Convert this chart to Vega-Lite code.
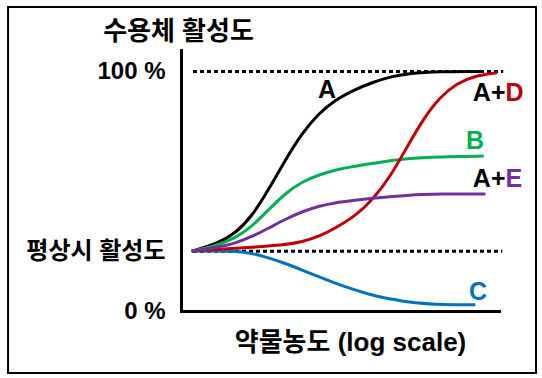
{
  "$schema": "https://vega.github.io/schema/vega-lite/v6.json",
  "width": 318,
  "height": 261,
  "autosize": {"type": "none"},
  "padding": {"left": 181, "top": 50, "right": 43, "bottom": 67},
  "background": "white",
  "config": {
    "view": {"stroke": null},
    "font": "Liberation Sans, Noto Sans CJK KR",
    "axis": {
      "domainColor": "#000000",
      "domainWidth": 3,
      "domainCap": "square",
      "ticks": false,
      "grid": false,
      "labelFont": "Liberation Sans, Noto Sans CJK KR",
      "titleFont": "Liberation Sans, Noto Sans CJK KR",
      "labelColor": "#000000",
      "titleColor": "#000000",
      "labelFontWeight": "bold",
      "titleFontWeight": "bold"
    }
  },
  "datasets": {
    "curves": [
      {"s": "A", "x": 0.33, "y": 25}, {"s": "A", "x": 1.15, "y": 28.3}, {"s": "A", "x": 1.67, "y": 32.4}, {"s": "A", "x": 2.18, "y": 39.4}, {"s": "A", "x": 2.69, "y": 50.5}, {"s": "A", "x": 3.21, "y": 63}, {"s": "A", "x": 3.73, "y": 74.2}, {"s": "A", "x": 4.24, "y": 82.5}, {"s": "A", "x": 4.75, "y": 88.1}, {"s": "A", "x": 5.27, "y": 92}, {"s": "A", "x": 5.94, "y": 95.7}, {"s": "A", "x": 6.45, "y": 97.8}, {"s": "A", "x": 6.97, "y": 99.2}, {"s": "A", "x": 7.99, "y": 100}, {"s": "A", "x": 9.33, "y": 100},
      {"s": "B", "x": 0.33, "y": 25}, {"s": "B", "x": 1.15, "y": 27.6}, {"s": "B", "x": 1.67, "y": 30.4}, {"s": "B", "x": 2.18, "y": 35.2}, {"s": "B", "x": 2.69, "y": 42.2}, {"s": "B", "x": 3.21, "y": 49.1}, {"s": "B", "x": 3.73, "y": 54}, {"s": "B", "x": 4.24, "y": 56.8}, {"s": "B", "x": 4.75, "y": 58.9}, {"s": "B", "x": 5.27, "y": 60.3}, {"s": "B", "x": 5.94, "y": 61.7}, {"s": "B", "x": 6.97, "y": 63.8}, {"s": "B", "x": 7.99, "y": 64.4}, {"s": "B", "x": 9.33, "y": 64.7},
      {"s": "C", "x": 0.33, "y": 25}, {"s": "C", "x": 1.67, "y": 25.1}, {"s": "C", "x": 2.18, "y": 24.1}, {"s": "C", "x": 2.69, "y": 22.3}, {"s": "C", "x": 3.21, "y": 19.9}, {"s": "C", "x": 3.73, "y": 17.1}, {"s": "C", "x": 4.24, "y": 14.3}, {"s": "C", "x": 4.75, "y": 11.6}, {"s": "C", "x": 5.27, "y": 9.2}, {"s": "C", "x": 5.78, "y": 7}, {"s": "C", "x": 6.3, "y": 5.3}, {"s": "C", "x": 6.81, "y": 4.2}, {"s": "C", "x": 7.32, "y": 3.2}, {"s": "C", "x": 7.84, "y": 2.8}, {"s": "C", "x": 8.35, "y": 2.6}, {"s": "C", "x": 9.07, "y": 2.6},
      {"s": "A+D", "x": 0.33, "y": 25}, {"s": "A+D", "x": 1.15, "y": 25.8}, {"s": "A+D", "x": 2.18, "y": 26.6}, {"s": "A+D", "x": 3.21, "y": 27.6}, {"s": "A+D", "x": 3.73, "y": 28.9}, {"s": "A+D", "x": 4.24, "y": 31}, {"s": "A+D", "x": 4.75, "y": 34.5}, {"s": "A+D", "x": 5.42, "y": 40.1}, {"s": "A+D", "x": 5.94, "y": 47.1}, {"s": "A+D", "x": 6.45, "y": 56.1}, {"s": "A+D", "x": 6.97, "y": 68.6}, {"s": "A+D", "x": 7.48, "y": 80.5}, {"s": "A+D", "x": 7.99, "y": 89.5}, {"s": "A+D", "x": 8.51, "y": 95.1}, {"s": "A+D", "x": 9.02, "y": 98.1}, {"s": "A+D", "x": 9.74, "y": 99.5},
      {"s": "A+E", "x": 0.33, "y": 25}, {"s": "A+E", "x": 1.15, "y": 26.6}, {"s": "A+E", "x": 1.67, "y": 28.3}, {"s": "A+E", "x": 2.18, "y": 31}, {"s": "A+E", "x": 2.69, "y": 34.5}, {"s": "A+E", "x": 3.21, "y": 38.3}, {"s": "A+E", "x": 3.73, "y": 41.5}, {"s": "A+E", "x": 4.24, "y": 43.8}, {"s": "A+E", "x": 4.75, "y": 45.2}, {"s": "A+E", "x": 5.27, "y": 46.1}, {"s": "A+E", "x": 5.94, "y": 47.1}, {"s": "A+E", "x": 6.97, "y": 48.4}, {"s": "A+E", "x": 7.99, "y": 48.9}, {"s": "A+E", "x": 9.38, "y": 48.9}
    ],
    "refs": [
      {"level": "max", "x": 0.37, "x2": 9.93, "y": 100},
      {"level": "base", "x": 0.37, "x2": 9.9, "y": 25}
    ],
    "labels": [
      {"part": "center", "s": "A", "text": "A", "x": 4.5, "y": 92.3},
      {"part": "center", "s": "B", "text": "B", "x": 9.06, "y": 71.2},
      {"part": "center", "s": "C", "text": "C", "x": 9.15, "y": 8.1},
      {"part": "prefix", "s": "A", "text": "A+", "x": 10.0, "y": 90.9},
      {"part": "suffix", "s": "A+D", "text": "D", "x": 10.0, "y": 90.9},
      {"part": "prefix", "s": "A", "text": "A+", "x": 10.0, "y": 55.1},
      {"part": "suffix", "s": "A+E", "text": "E", "x": 10.0, "y": 55.1}
    ],
    "frame": [
      {"x": -5.33, "x2": 10.94, "y": 127.0, "y2": -25.9}
    ]
  },
  "encoding": {
    "x": {"field": "x", "type": "quantitative", "scale": {"domain": [0, 9.8], "nice": false, "zero": false},
      "axis": {"labels": false, "title": "약물농도 (log scale)", "titleFontSize": 26, "titleX": 169, "titleY": 31, "titleAlign": "center", "titleBaseline": "middle"}},
    "y": {"field": "y", "type": "quantitative", "scale": {"domain": [0, 109], "nice": false, "zero": false},
      "axis": {"values": [0, 25, 100], "labelExpr": "datum.value == 100 ? '100 %' : datum.value == 25 ? '평상시 활성도' : '0 %'", "labelFontSize": 24, "labelPadding": 16, "labelBaseline": "middle", "labelOverlap": false, "labelBound": false,
        "title": "수용체 활성도", "titleAngle": 0, "titleFontSize": 26, "titleX": -3, "titleY": -19, "titleAlign": "center", "titleBaseline": "middle"}}
  },
  "layer": [
    {
      "data": {"name": "frame"},
      "mark": {"type": "rect", "fill": null, "stroke": "#000000", "strokeWidth": 2},
      "encoding": {"x2": {"field": "x2"}, "y2": {"field": "y2"}}
    },
    {
      "data": {"name": "refs"},
      "mark": {"type": "rule", "stroke": "#000000", "strokeWidth": 3, "strokeDash": [4, 3]},
      "encoding": {"x2": {"field": "x2"}}
    },
    {
      "data": {"name": "curves"},
      "mark": {"type": "line", "strokeWidth": 3, "interpolate": "basis"},
      "encoding": {
        "color": {"field": "s", "type": "nominal", "legend": null,
          "scale": {"domain": ["A", "A+D", "B", "A+E", "C"], "range": ["#000000", "#C00000", "#00B050", "#7030A0", "#0070C0"]}},
        "order": {"field": "x", "type": "quantitative"}
      }
    },
    {
      "data": {"name": "labels"},
      "transform": [{"filter": "datum.part == 'center'"}],
      "mark": {"type": "text", "fontSize": 25, "fontWeight": "bold", "align": "center", "baseline": "middle", "font": "Liberation Sans"},
      "encoding": {"text": {"field": "text"}, "color": {"field": "s", "type": "nominal", "legend": null}}
    },
    {
      "data": {"name": "labels"},
      "transform": [{"filter": "datum.part == 'prefix'"}],
      "mark": {"type": "text", "fontSize": 25, "fontWeight": "bold", "align": "right", "baseline": "middle", "font": "Liberation Sans"},
      "encoding": {"text": {"field": "text"}, "color": {"field": "s", "type": "nominal", "legend": null}}
    },
    {
      "data": {"name": "labels"},
      "transform": [{"filter": "datum.part == 'suffix'"}],
      "mark": {"type": "text", "fontSize": 25, "fontWeight": "bold", "align": "left", "baseline": "middle", "font": "Liberation Sans"},
      "encoding": {"text": {"field": "text"}, "color": {"field": "s", "type": "nominal", "legend": null}}
    }
  ]
}
